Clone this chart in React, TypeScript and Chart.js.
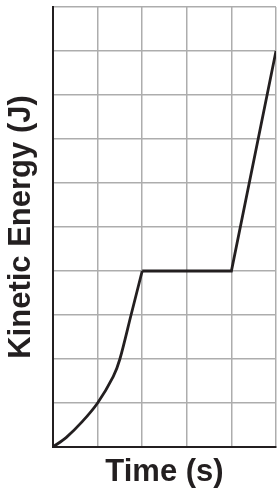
import React, { useEffect, useRef } from "react";
import { Chart, registerables } from "chart.js";

Chart.register(...registerables);

// Time (s) grid columns and Kinetic Energy (J) grid rows
const timeTicks = [0, 1, 2, 3, 4, 5];
const energyTicks = [0, 1, 2, 3, 4, 5, 6, 7, 8, 9, 10];

// Accelerating phase (curved)
const curveTime = [0, 0.3, 0.65, 1, 1.35, 1.5, 1.75, 2];
const curveEnergy = [0, 0.22, 0.57, 1, 1.6, 2, 3, 4];

// Constant phase then steep rise (straight segments)
const lineTime = [2, 4, 5];
const lineEnergy = [4, 4, 9];

const xTitle = "Time (s)";
const yTitle = "Kinetic Energy (J)";

export default function App() {
  const ref = useRef<HTMLCanvasElement | null>(null);

  useEffect(() => {
    document.body.style.margin = "0";
    const canvas = ref.current;
    if (!canvas) return;
    const ink = "#231f20";
    const gridColor = "#adadad";
    const font = { family: "'Liberation Sans', Arial, sans-serif", size: 31, weight: "bold" as const };

    const chart = new Chart(canvas, {
      type: "scatter",
      data: {
        datasets: [
          {
            data: curveTime.map((t, i) => ({ x: t, y: curveEnergy[i] })),
            showLine: true,
            borderColor: ink,
            borderWidth: 2.8,
            pointRadius: 0,
            tension: 0.3,
            fill: false,
          },
          {
            data: lineTime.map((t, i) => ({ x: t, y: lineEnergy[i] })),
            showLine: true,
            borderColor: ink,
            borderWidth: 2.8,
            pointRadius: 0,
            tension: 0,
            fill: false,
          },
        ],
      },
      options: {
        animation: false,
        responsive: false,
        maintainAspectRatio: false,
        layout: { padding: { top: 7, right: 1, left: 0, bottom: 0 } },
        plugins: { legend: { display: false }, tooltip: { enabled: false } },
        scales: {
          x: {
            type: "linear",
            min: timeTicks[0],
            max: timeTicks[timeTicks.length - 1],
            afterBuildTicks: (s: any) => {
              s.ticks = timeTicks.map((v) => ({ value: v }));
            },
            ticks: { display: false },
            grid: { color: gridColor, lineWidth: 1.5, drawTicks: false },
            border: { display: true, color: ink, width: 2 },
            title: { display: true, text: xTitle, color: ink, font, padding: { top: 0, bottom: 3 } },
            afterFit: (s: any) => {
              s.height = 47;
            },
          },
          y: {
            type: "linear",
            min: energyTicks[0],
            max: energyTicks[energyTicks.length - 1],
            afterBuildTicks: (s: any) => {
              s.ticks = energyTicks.map((v) => ({ value: v }));
            },
            ticks: { display: false },
            grid: { color: gridColor, lineWidth: 1.5, drawTicks: false },
            border: { display: true, color: ink, width: 2 },
            title: { display: true, text: yTitle, color: ink, font, padding: { top: 3, bottom: 0 } },
            afterFit: (s: any) => {
              s.width = 53;
            },
          },
        },
      },
    });
    return () => chart.destroy();
  }, []);

  return (
    <div style={{ width: 277, height: 494 }}>
      <canvas ref={ref} width={277} height={494} style={{ display: "block" }} />
    </div>
  );
}
